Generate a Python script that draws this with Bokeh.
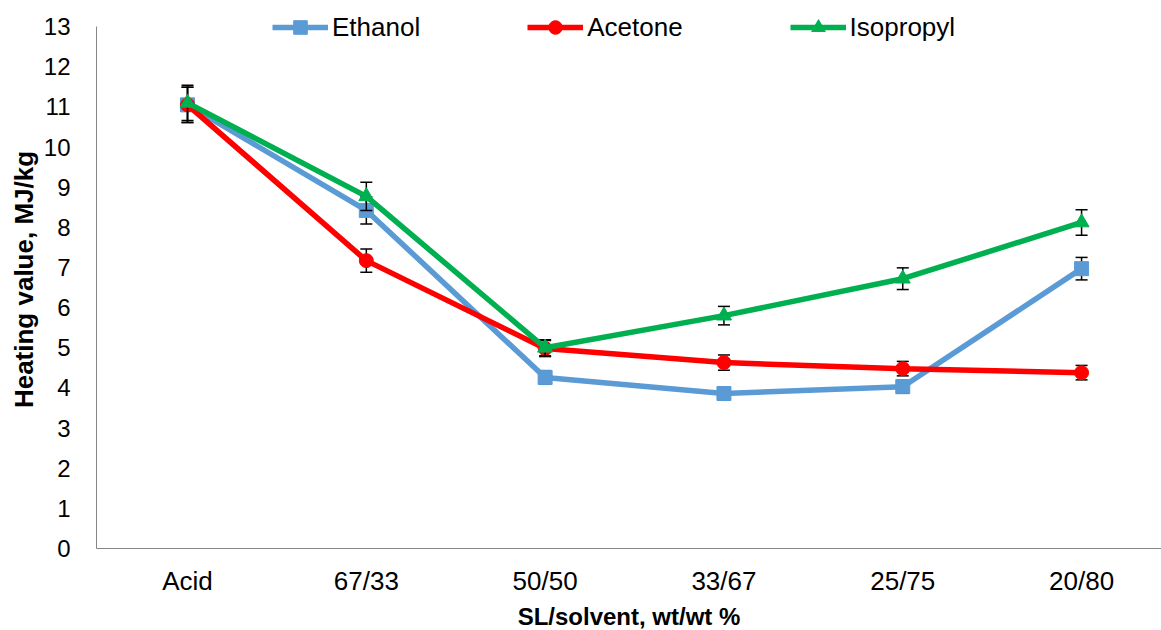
from bokeh.plotting import figure
from bokeh.models import Range1d, FixedTicker, Legend, LegendItem
from bokeh.embed import file_html
from bokeh.resources import INLINE

categories = ["Acid", "67/33", "50/50", "33/67", "25/75", "20/80"]
ethanol = [11.05, 8.42, 4.26, 3.86, 4.03, 6.97]
ethanol_err = [0.44, 0.34, 0.17, 0.15, 0.16, 0.28]
acetone = [11.05, 7.17, 4.98, 4.63, 4.48, 4.38]
acetone_err = [0.44, 0.29, 0.20, 0.19, 0.18, 0.18]
isopropyl = [11.10, 8.77, 5.00, 5.80, 6.72, 8.12]
isopropyl_err = [0.44, 0.35, 0.20, 0.23, 0.27, 0.32]
y_ticks = list(range(0, 14))

FONT = "Liberation Sans"
xs = list(range(len(categories)))

p = figure(frame_width=1065, frame_height=538, output_backend="svg", toolbar_location=None,
           x_range=Range1d(-0.509, 5.447), y_range=Range1d(0, 13.4),
           min_border_left=96, min_border_right=0, min_border_top=10, min_border_bottom=75)
p.outline_line_color = None
p.xgrid.visible = False
p.ygrid.visible = False

series = [
    ("Ethanol", ethanol, ethanol_err, "#5B9BD5", "square", 14),
    ("Acetone", acetone, acetone_err, "#FF0000", "circle", 14),
    ("Isopropyl", isopropyl, isopropyl_err, "#00B050", "triangle", 15),
]

items = []
for name, vals, errs, color, marker, size in series:
    lo = [v - e for v, e in zip(vals, errs)]
    hi = [v + e for v, e in zip(vals, errs)]
    p.segment(x0=xs, y0=lo, x1=xs, y1=hi, line_color="black", line_width=1.5)
    p.scatter(xs, lo, marker="dash", size=12, line_color="black", line_width=1.5)
    p.scatter(xs, hi, marker="dash", size=12, line_color="black", line_width=1.5)
    ln = p.line(xs, vals, line_color=color, line_width=5.5)
    mk = p.scatter(xs, vals, marker=marker, size=size, fill_color=color, line_color=color)
    items.append(LegendItem(label=name, renderers=[ln, mk]))

legend = Legend(items=items, orientation="horizontal", location=(176, 504),
                padding=0, margin=0, spacing=107, label_standoff=4,
                glyph_width=56, glyph_height=34, label_height=34,
                label_text_font=FONT, label_text_font_size="26px",
                label_text_color="black",
                background_fill_alpha=0, border_line_alpha=0)
p.add_layout(legend, "center")

for ax in (p.xaxis, p.yaxis):
    ax.axis_line_color = "#868686"
    ax.axis_line_width = 1
    ax.major_tick_line_color = None
    ax.minor_tick_line_color = None
    ax.major_label_text_font = FONT
    ax.major_label_text_color = "black"
    ax.axis_label_text_font = FONT
    ax.axis_label_text_font_style = "bold"
    ax.axis_label_text_color = "black"

p.xaxis.ticker = FixedTicker(ticks=xs)
p.xaxis.major_label_overrides = {i: c for i, c in enumerate(categories)}
p.xaxis.major_label_text_font_size = "26px"
p.xaxis.major_label_standoff = 11
p.xaxis.axis_label = "SL/solvent, wt/wt %"
p.xaxis.axis_label_text_font_size = "24px"
p.xaxis.axis_label_standoff = 4

p.yaxis.ticker = FixedTicker(ticks=y_ticks)
p.yaxis.bounds = (0, 13)
p.yaxis.major_label_text_font_size = "24px"
p.yaxis.major_label_standoff = 20
p.yaxis.axis_label = "Heating value, MJ/kg"
p.yaxis.axis_label_text_font_size = "26px"
p.yaxis.axis_label_standoff = 2

open("out.html", "w").write(file_html(p, INLINE))
